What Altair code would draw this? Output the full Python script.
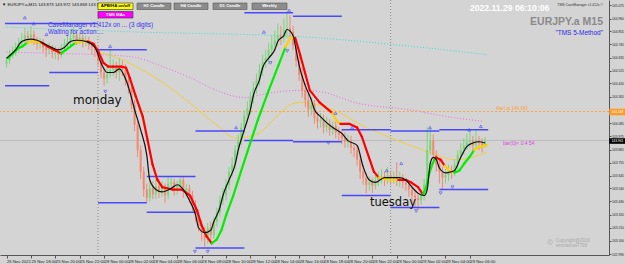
import altair as alt
import pandas as pd
import numpy as np

# ---------------- data ----------------
first_open = 144.58
closes = [
    144.61, 144.66, 144.68, 144.72, 144.75, 144.78, 144.82, 144.80, 144.83, 144.78,
    144.75, 144.77, 144.72, 144.70, 144.72, 144.68, 144.70, 144.66, 144.72, 144.75,
    144.77, 144.80, 144.82, 144.78, 144.80, 144.77, 144.78, 144.74, 144.72, 144.70,
    144.61, 144.51, 144.46, 144.50, 144.53, 144.55, 144.51, 144.56, 144.53, 144.45,
    144.38, 144.24, 144.07, 143.86, 143.68, 143.53, 143.46, 143.54, 143.49, 143.56,
    143.51, 143.54, 143.48, 143.58, 143.59, 143.53, 143.56, 143.61, 143.51, 143.54,
    143.48, 143.40, 143.32, 143.23, 143.17, 143.12, 143.21, 143.15, 143.26, 143.34,
    143.44, 143.48, 143.57, 143.68, 143.74, 143.86, 143.94, 144.05, 144.15, 144.21,
    144.30, 144.38, 144.45, 144.53, 144.60, 144.63, 144.70, 144.74, 144.78, 144.82,
    144.80, 144.87, 144.88, 144.85, 144.74, 144.61, 144.49, 144.36, 144.28, 144.20,
    144.24, 144.13, 144.10, 144.11, 144.05, 144.08, 144.03, 144.06, 144.01, 143.99,
    143.96, 143.93, 143.94, 143.88, 143.86, 143.78, 143.68, 143.63, 143.57, 143.59,
    143.56, 143.61, 143.63, 143.64, 143.61, 143.65, 143.63, 143.64, 143.61, 143.63,
    143.59, 143.57, 143.53, 143.48, 143.46, 143.44, 143.48, 143.57, 143.86, 143.94,
    143.82, 143.74, 143.68, 143.63, 143.65, 143.69, 143.68, 143.74, 143.82, 143.86,
    143.90, 143.93, 143.94, 143.90, 143.94, 143.92, 143.90, 143.94,
]
highs = [
    144.64, 144.70, 144.73, 144.76, 144.80, 144.84, 144.88, 144.86, 144.90, 144.86,
    144.81, 144.80, 144.79, 144.75, 144.76, 144.74, 144.73, 144.72, 144.75, 144.79,
    144.82, 144.86, 144.89, 144.85, 144.84, 144.83, 144.82, 144.81, 144.77, 144.76,
    144.73, 144.65, 144.55, 144.58, 144.70, 144.62, 144.60, 144.63, 144.61, 144.58,
    144.49, 144.41, 144.28, 144.10, 143.90, 143.72, 143.58, 143.60, 143.60, 143.62,
    143.62, 143.60, 143.58, 143.64, 143.63, 143.62, 143.60, 143.64, 143.64, 143.58,
    143.57, 143.52, 143.44, 143.36, 143.27, 143.22, 143.25, 143.26, 143.30, 143.38,
    143.48, 143.54, 143.62, 143.72, 143.80, 143.90, 143.99, 144.09, 144.19, 144.27,
    144.35, 144.43, 144.50, 144.58, 144.66, 144.70, 144.76, 144.82, 144.86, 144.92,
    144.90, 144.96, 145.02, 144.99, 144.90, 144.78, 144.65, 144.55, 144.42, 144.33,
    144.30, 144.28, 144.18, 144.17, 144.16, 144.14, 144.12, 144.10, 144.10, 144.05,
    144.03, 144.01, 143.99, 143.98, 143.92, 143.90, 143.82, 143.73, 143.67, 143.64,
    143.63, 143.66, 143.68, 143.70, 143.68, 143.72, 143.69, 143.68, 143.76, 143.68,
    143.66, 143.63, 143.60, 143.57, 143.52, 143.50, 143.53, 143.62, 144.05, 144.04,
    143.99, 143.86, 143.78, 143.72, 143.70, 143.74, 143.73, 143.78, 143.86, 143.92,
    143.96, 144.00, 144.02, 143.98, 144.04, 143.98, 143.96, 143.97,
]
lows = [
    144.55, 144.58, 144.63, 144.65, 144.69, 144.72, 144.75, 144.76, 144.77, 144.74,
    144.70, 144.71, 144.68, 144.64, 144.66, 144.63, 144.62, 144.61, 144.63, 144.69,
    144.72, 144.74, 144.77, 144.74, 144.75, 144.72, 144.73, 144.70, 144.66, 144.64,
    144.57, 144.46, 144.40, 144.42, 144.47, 144.48, 144.46, 144.44, 144.48, 144.40,
    144.33, 144.20, 144.02, 143.80, 143.62, 143.47, 143.42, 143.43, 143.45, 143.45,
    143.46, 143.47, 143.42, 143.45, 143.53, 143.48, 143.49, 143.52, 143.46, 143.47,
    143.42, 143.35, 143.26, 143.18, 143.10, 143.05, 143.08, 143.10, 143.12, 143.22,
    143.30, 143.40, 143.44, 143.53, 143.64, 143.70, 143.82, 143.90, 144.00, 144.10,
    144.16, 144.25, 144.33, 144.40, 144.48, 144.55, 144.58, 144.65, 144.69, 144.73,
    144.74, 144.76, 144.80, 144.78, 144.70, 144.56, 144.44, 144.30, 144.22, 144.14,
    144.15, 144.08, 144.04, 144.05, 144.00, 144.01, 143.98, 143.99, 143.96, 143.94,
    143.91, 143.88, 143.88, 143.83, 143.80, 143.73, 143.62, 143.57, 143.50, 143.52,
    143.50, 143.53, 143.56, 143.58, 143.56, 143.58, 143.57, 143.58, 143.56, 143.55,
    143.54, 143.52, 143.47, 143.42, 143.38, 143.36, 143.40, 143.44, 143.53, 143.82,
    143.78, 143.68, 143.58, 143.53, 143.58, 143.60, 143.62, 143.64, 143.70, 143.78,
    143.82, 143.86, 143.88, 143.85, 143.87, 143.86, 143.84, 143.88,
]

# fast smoothed price (black line)
black_i = [0, 3, 5, 8, 10, 14, 17, 19, 21, 23, 26, 29, 31, 33, 35, 37, 39, 41, 42, 44,
           46, 47, 49, 51, 54, 56, 58, 60, 62, 63, 65, 67, 68, 70, 71, 73, 75, 76, 78, 80,
           81, 83, 84, 86, 88, 89, 91, 92, 94, 95, 96, 98, 100, 101, 103, 105, 107, 110, 112, 115,
           117, 119, 121, 124, 129, 131, 133, 135, 137, 138, 139, 140, 141, 142, 144, 146, 147, 149, 151, 153,
           155, 157]
black_p = [144.63, 144.70, 144.77, 144.79, 144.78, 144.73, 144.70, 144.72, 144.77, 144.78,
           144.77, 144.72, 144.59, 144.51, 144.51, 144.54, 144.46, 144.30, 144.20, 144.03,
           143.82, 143.61, 143.53, 143.51, 143.54, 143.57, 143.53, 143.44, 143.32, 143.21,
           143.17, 143.19, 143.26, 143.38, 143.48, 143.61, 143.74, 143.86, 144.03, 144.20,
           144.32, 144.45, 144.55, 144.63, 144.70, 144.77, 144.82, 144.87, 144.82, 144.70,
           144.57, 144.40, 144.28, 144.20, 144.14, 144.09, 144.05, 144.00, 143.94, 143.90,
           143.72, 143.61, 143.59, 143.63, 143.63, 143.61, 143.55, 143.50, 143.48, 143.53,
           143.75, 143.80, 143.78, 143.71, 143.67, 143.68, 143.69, 143.80, 143.89, 143.92,
           143.93, 143.92]

# trend moving average (thick, coloured by state: u=up, f=flat, d=down)
ha_i = [0.5, 2.1, 3.7, 5.3, 6.9, 9.2, 11.5, 13.4, 15.6, 17.9,
        19.5, 21.1, 22.7, 24.7, 26.6, 28.5, 30.2, 31.8, 33.4, 35.0,
        37.6, 39.2, 40.5, 42.4, 44.7, 46.3, 47.9, 49.5, 51.1, 54.4,
        57.6, 60.2, 62.4, 64.0, 65.6, 67.3, 68.9, 70.5, 72.1, 74.4,
        76.9, 79.2, 82.4, 86.0, 89.2, 91.5, 93.1, 94.7, 96.3, 97.9,
        99.5, 102.7, 106.9, 108.2, 109.5, 112.4, 115.0, 116.6, 118.9, 120.5,
        122.1, 125.3, 128.5, 131.1, 132.7, 135.0, 136.6, 137.6, 138.5, 139.8,
        140.8, 142.4, 143.7, 145.3, 146.9, 148.6, 150.2, 151.8, 153.4, 155.3, 157.6]
ha_p = [144.63, 144.67, 144.71, 144.73, 144.76, 144.77, 144.76, 144.73, 144.70, 144.67,
        144.70, 144.73, 144.76, 144.77, 144.77, 144.75, 144.68, 144.59, 144.56, 144.56,
        144.56, 144.55, 144.46, 144.31, 144.14, 143.94, 143.74, 143.61, 143.55, 143.53,
        143.53, 143.48, 143.36, 143.23, 143.14, 143.08, 143.11, 143.19, 143.32, 143.48,
        143.68, 143.86, 144.11, 144.36, 144.57, 144.72, 144.80, 144.80, 144.66, 144.51,
        144.36, 144.26, 144.17, 144.11, 144.08, 144.08, 144.05, 143.97, 143.80, 143.68,
        143.63, 143.61, 143.61, 143.61, 143.59, 143.55, 143.49, 143.54, 143.65, 143.75,
        143.80, 143.78, 143.73, 143.69, 143.67, 143.69, 143.75, 143.80, 143.86, 143.89, 143.90]
# state runs along the points above (state, number of points)
ha_runs = [("u", 5), ("f", 2), ("d", 3), ("u", 3), ("f", 2), ("d", 21), ("u", 10), ("f", 2),
           ("d", 5), ("f", 2), ("d", 6), ("f", 2), ("d", 4), ("u", 4), ("d", 2), ("f", 2),
           ("u", 4), ("f", 2)]

# slow moving average (thin yellow)
slow_i = [30.2, 36.6, 44.7, 52.7, 60.8, 68.9, 75.3, 81.8, 88.2, 93.1, 96.3, 106.9, 117.9, 125.3, 139.2, 146.9, 157.6]
slow_p = [144.68, 144.63, 144.53, 144.40, 144.24, 144.07, 143.96, 143.99, 144.13, 144.24, 144.26, 144.20, 144.05, 143.97, 143.84, 143.78, 143.84]

# long averages (dotted)
mag_i = [0, 15.6, 30.2, 41.5, 51.1, 60.8, 68.9, 77.9, 86.6, 96.3, 102.7, 115.6, 131.8, 144.7, 156.6]
mag_p = [144.68, 144.67, 144.66, 144.64, 144.56, 144.46, 144.36, 144.30, 144.34, 144.36, 144.35, 144.25, 144.20, 144.14, 144.10]
cyan_i = [0, 41.5, 96.3, 128.5, 157.6]
cyan_p = [144.89, 144.85, 144.81, 144.74, 144.66]

# H4 candle high / low levels
h4_start = [-0.5, 14, 30, 46, 62, 78, 94, 110, 126, 142]
h4_end = [14, 30, 46, 62, 78, 94, 110, 126, 142, 158]
h4_high = [144.92, 144.92, 144.70, 143.64, 144.02, 145.01, 144.98, 144.03, 144.02, 144.03]
h4_low = [144.40, 144.51, 143.42, 143.34, 143.04, 143.94, 143.93, 143.48, 143.38, 143.53]

# fractal arrows
up_i = [6, 8.9, 13.1, 34, 75.3, 84.4, 92.7, 107.9, 113.4, 124.7, 129.5, 138.9, 151.8, 155.6]
up_p = [144.97, 144.92, 144.83, 144.73, 144.05, 144.85, 145.03, 144.17, 144.05, 143.69, 143.75, 144.05, 144.03, 144.06]
dn_i = [32.4, 61.8, 66, 86.6, 92.1, 105.6, 134.4, 142.4, 146.3]
dn_p = [144.35, 143.01, 143.01, 144.59, 144.69, 143.92, 143.35, 143.50, 143.55]

alert_price = 144.183
bid_price = 143.941
day_sep = [30, 126]

y_ticks = [145.075, 144.960, 144.855, 144.745, 144.635, 144.525, 144.420, 144.305, 144.085,
           143.975, 143.865, 143.755, 143.645, 143.540, 143.430, 143.320, 143.210, 143.100, 142.990]
x_ticks = [0, 8, 16, 24, 32, 40, 48, 56, 64, 72, 80, 88, 96, 104, 112, 120, 128, 136, 144, 152]
x_labels = ["25 Nov 2022", "25 Nov 18:00", "25 Nov 20:00", "25 Nov 22:00", "28 Nov 00:00",
            "28 Nov 02:00", "28 Nov 04:00", "28 Nov 06:00", "28 Nov 08:00", "28 Nov 10:00",
            "28 Nov 12:00", "28 Nov 14:00", "28 Nov 16:00", "28 Nov 18:00", "28 Nov 20:00",
            "28 Nov 22:00", "29 Nov 00:00", "29 Nov 02:00", "29 Nov 04:00", "29 Nov 06:00"]

# ---------------- frames ----------------
opens = [first_open] + closes[:-1]
bars = pd.DataFrame({"i": range(len(closes)), "o": opens, "h": highs, "l": lows, "c": closes})
bars["top"] = bars[["o", "c"]].max(axis=1)
bars["bot"] = bars[["o", "c"]].min(axis=1)
bars["dir"] = np.where(bars["c"] >= bars["o"], "up", "down")

black = pd.DataFrame({"i": black_i, "p": black_p})
slow = pd.DataFrame({"i": slow_i, "p": slow_p})
mag = pd.DataFrame({"i": mag_i, "p": mag_p})
cyan = pd.DataFrame({"i": cyan_i, "p": cyan_p})
ups = pd.DataFrame({"i": up_i, "p": up_p})
dns = pd.DataFrame({"i": dn_i, "p": dn_p})

ha_state = "".join(s * n for s, n in ha_runs)
state_col = {"u": "#00ee00", "f": "#ffd000", "d": "#ff0000"}
rows = []
for k in range(1, len(ha_i)):
    st = ha_state[min(k, len(ha_state) - 1)]
    rows.append({"seg": k, "i": ha_i[k - 1], "p": ha_p[k - 1], "col": state_col[st]})
    rows.append({"seg": k, "i": ha_i[k], "p": ha_p[k], "col": state_col[st]})
ha = pd.DataFrame(rows)

h4 = pd.DataFrame({"s": h4_start, "e": h4_end, "hi": h4_high, "lo": h4_low})

W, H = 609, 255
xs = alt.Scale(domain=[-0.5, 196], nice=False, zero=False)
ys = alt.Scale(domain=[142.982, 145.117], nice=False, zero=False)

lab_arr = "[" + ",".join("'%s'" % s for s in x_labels) + "]"
xaxis = alt.Axis(values=x_ticks, labelExpr=lab_arr + "[round(datum.value/8)]", orient="bottom",
                 labelAlign="left", labelBaseline="top", labelFontSize=4.2, labelPadding=1,
                 labelFont="Liberation Sans", tickSize=3, tickColor="#555", domainColor="#555",
                 labelColor="#222", grid=False, labelOverlap=False, labelFlush=False, title=None)
yaxis = alt.Axis(values=y_ticks, format=".3f", orient="right", labelFontSize=3.3, labelPadding=0.5,
                 labelFont="Liberation Sans", tickSize=2, tickColor="#555", domainColor="#555",
                 labelColor="#222", grid=False, labelOverlap=False, labelFlush=False, title=None)

X = lambda f: alt.X(f, scale=xs, axis=xaxis)
Y = lambda f: alt.Y(f, scale=ys, axis=yaxis)

layers = []

# long dotted averages
layers.append(alt.Chart(cyan).mark_line(color="#33e0e0", strokeWidth=1, strokeDash=[1, 2], interpolate="monotone")
              .encode(x=X("i:Q"), y=Y("p:Q")))
layers.append(alt.Chart(mag).mark_line(color="#ee66ee", strokeWidth=1, strokeDash=[1, 2], interpolate="monotone")
              .encode(x=X("i:Q"), y=Y("p:Q")))
# alert / bid lines
layers.append(alt.Chart(pd.DataFrame({"p": [alert_price]})).mark_rule(color="#ffa030", strokeDash=[2, 2], strokeWidth=1)
              .encode(y=Y("p:Q")))
layers.append(alt.Chart(pd.DataFrame({"p": [bid_price]})).mark_rule(color="#bdbdbd", strokeWidth=1)
              .encode(y=Y("p:Q")))
# day separators
layers.append(alt.Chart(pd.DataFrame({"i": day_sep})).mark_rule(color="#8a8a8a", strokeDash=[1, 2], strokeWidth=1)
              .encode(x=X("i:Q")))
# slow yellow
layers.append(alt.Chart(slow).mark_line(color="#f0d040", strokeWidth=1, interpolate="monotone")
              .encode(x=X("i:Q"), y=Y("p:Q")))
# candles
col_wick = alt.Color("dir:N", scale=alt.Scale(domain=["up", "down"], range=["#7ad67a", "#f28872"]), legend=None)
col_body = alt.Color("dir:N", scale=alt.Scale(domain=["up", "down"], range=["#3f72d8", "#f26440"]), legend=None)
layers.append(alt.Chart(bars).mark_rule(strokeWidth=1).encode(x=X("i:Q"), y=Y("l:Q"), y2="h:Q", color=col_wick))
layers.append(alt.Chart(bars).mark_bar(width=2).encode(x=X("i:Q"), y=Y("bot:Q"), y2="top:Q", color=col_body))
# H4 levels
for fld in ["hi", "lo"]:
    layers.append(alt.Chart(h4).mark_rule(color="#3a3aff", strokeWidth=1.5, opacity=0.9)
                  .encode(x=X("s:Q"), x2="e:Q", y=Y(fld + ":Q")))
# trend MA
layers.append(alt.Chart(ha).mark_line(strokeWidth=2.2, strokeCap="round")
              .encode(x=X("i:Q"), y=Y("p:Q"), detail="seg:N", color=alt.Color("col:N", scale=None)))
# black
layers.append(alt.Chart(black).mark_line(color="#111111", strokeWidth=1.2, interpolate="monotone")
              .encode(x=X("i:Q"), y=Y("p:Q")))
# fractal arrows
layers.append(alt.Chart(ups).mark_point(shape="triangle-up", size=9, filled=False, color="#3a3aff", strokeWidth=0.8)
              .encode(x=X("i:Q"), y=Y("p:Q")))
layers.append(alt.Chart(dns).mark_point(shape="triangle-down", size=9, filled=False, color="#3a3aff", strokeWidth=0.8)
              .encode(x=X("i:Q"), y=Y("p:Q")))

one = pd.DataFrame({"k": [0]})


def rect(x1, y1, x2, y2, fill, stroke="#333"):
    return alt.Chart(one).mark_rect(fill=fill, stroke=stroke, strokeWidth=0.6).encode(
        x=alt.value(x1), x2=alt.value(x2), y=alt.value(y1), y2=alt.value(y2))


def txt(s, px, py, size, color, align="left", weight="normal", font="Liberation Sans", baseline="middle"):
    return alt.Chart(one).mark_text(text=s, fontSize=size, color=color, align=align, fontWeight=weight,
                                    font=font, baseline=baseline).encode(x=alt.value(px), y=alt.value(py))


# header / buttons
layers.append(txt("▼ EURJPY.a,M15  143.873 143.972 143.869 143.941", 2, 4.5, 4.3, "#111"))
layers.append(rect(98, 3, 133, 9.5, "#ffff00"))
layers.append(txt("APB/HA on/off", 115.5, 6.3, 4.3, "#000", "center", "bold"))
layers.append(rect(98, 11.5, 133, 18, "#ff00ff"))
layers.append(txt("TMS MAs", 115.5, 14.8, 4.3, "#ffffff", "center", "bold"))
for lbl, a, b in [("H1 Candle", 137, 171), ("H4 Candle", 174, 208), ("D1 Candle", 213, 247), ("Weekly", 252, 287)]:
    layers.append(rect(a, 3, b, 9.5, "#8c8c8c", "#555"))
    layers.append(txt(lbl, (a + b) / 2, 6.3, 4.3, "#ffffff", "center", "bold"))
layers.append(txt("CaveManager v1.412x on ... (3 digits)", 48, 24.5, 6.3, "#3535f5"))
layers.append(txt("Waiting for action ...", 48, 31.5, 6.3, "#3535f5"))
layers.append(txt("2022.11.29 06:10:06", 470, 8, 8.6, "#ffffff", "left", "bold"))
layers.append(txt("EURJPY.a M15", 603, 21.5, 10.5, "#8a8a8a", "right", "bold"))
layers.append(txt("\"TMS 5-Method\"", 603, 33, 6.5, "#2a2ae8", "right"))
layers.append(txt("TMS CaveManager v1.412x ©", 603, 4.5, 3.4, "#333", "right"))
layers.append(txt("monday", 73, 100, 12, "#111", font="DejaVu Sans"))
layers.append(txt("tuesday", 370, 203, 11.5, "#111", font="DejaVu Sans"))
layers.append(txt("Alert at 144.183", 496, 109, 4.5, "#ffa030"))
layers.append(txt("bar(0)< 0:4:54", 503, 143, 5, "#e040e0"))
layers.append(txt("©", 550, 243, 7, "#a8a8a8", "center"))
layers.append(txt("Copyright@2016", 556, 240.5, 4.5, "#a8a8a8"))
layers.append(txt("emmanuel7799", 556, 246, 4.5, "#a8a8a8"))
# price boxes on the scale
layers.append(rect(609.5, 109, 625, 115, "#ff9a28", "#ff9a28"))
layers.append(txt("144.183", 611.5, 112, 3.3, "#ffffff"))
layers.append(rect(609.5, 138.5, 625, 143.5, "#000000", "#000000"))
layers.append(txt("143.941", 611.5, 141, 3.3, "#ffffff"))

chart = alt.layer(*layers).properties(
    width=W, height=H,
    padding={"left": 0, "top": 0, "right": 16, "bottom": 9},
    autosize=alt.AutoSizeParams(type="none"),
    background="#d4d4d4",
).configure_view(stroke=None)

chart.save("out.html", embed_options={"renderer": "svg", "actions": False})
